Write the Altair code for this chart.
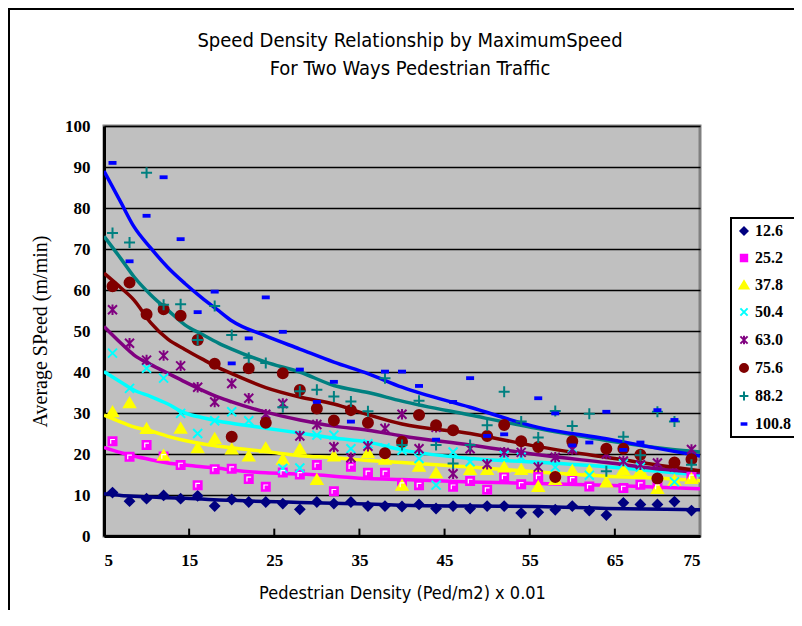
import altair as alt
import pandas as pd

TITLE = ["Speed Density Relationship by MaximumSpeed", "For Two Ways Pedestrian Traffic"]
X_TITLE = "Pedestrian Density (Ped/m2) x 0.01"
Y_TITLE = "Average SPeed (m/min)"
SERIES = ["12.6", "25.2", "37.8", "50.4", "63.0", "75.6", "88.2", "100.8"]

X_PTS = [6, 8, 10, 12, 14, 16, 18, 20, 22, 24, 26, 28, 30, 32, 34, 36, 38, 40,
         42, 44, 46, 48, 50, 52, 54, 56, 58, 60, 62, 64, 66, 68, 70, 72, 74]

P_126 = [10.6, 8.5, 9.1, 9.9, 9.1, 9.8, 7.3, 8.9, 8.3, 8.3, 7.9, 6.5, 8.3, 7.9, 8.3, 7.3, 7.3, 7.2,
         7.7, 6.7, 7.3, 6.7, 7.3, 7.3, 5.6, 5.8, 6.4, 7.3, 6.2, 5.1, 8.1, 7.7, 7.7, 8.4, 6.2]
P_252 = [23.1, 19.3, 22.2, 19.4, 17.3, 12.4, 16.3, 16.4, 13.9, 12.0, 15.5, 15.0, 17.3, 10.9, 16.9, 15.4, 15.4, 12.5,
         12.4, None, 12.0, 13.4, 11.3, 14.4, 12.6, 14.4, None, 13.8, 12.1, None, 11.7, 12.5, 12.0, None, 14.4]
P_378 = [30.3, 32.5, 26.2, 19.7, 26.3, 21.5, 23.8, 21.2, 19.5, 21.5, 18.7, 21.2, 13.8, 19.5, None, 20.3, 18.7, 12.4,
         17.0, 15.4, None, 16.2, 16.2, 16.8, 16.2, 12.1, 13.8, 16.0, 15.9, 13.2, 16.2, 16.0, 11.6, 13.6, 14.0]
P_504 = [44.6, 36.0, 40.9, 38.5, 29.9, 25.0, 28.1, 30.3, 28.1, None, 16.5, 16.6, 24.6, 24.6, 21.3, 22.5, 21.5, 20.9,
         18.9, 12.4, 20.5, 18.1, None, 19.7, 19.2, None, 16.8, 21.4, 14.8, None, 17.6, 16.8, None, 13.2, None]
P_630 = [55.2, 47.0, 42.9, 44.0, 41.5, 36.3, 32.7, 37.2, 33.6, 29.7, 32.3, 24.4, 27.2, 21.7, 19.1, 21.9, 26.2, 29.7,
         21.3, 26.5, 15.2, 21.3, 17.5, 20.4, 20.4, 16.8, 19.2, 21.1, None, 20.0, 18.3, 17.4, 17.8, 16.8, 21.1]
P_756 = [60.9, 61.8, 54.1, 55.3, 53.7, 47.8, 42.0, 24.2, 40.9, 27.6, 39.7, 35.6, 31.1, 28.2, 30.7, 27.6, 20.2, 23.0,
         29.5, 27.0, 25.8, None, 24.4, 27.1, 23.1, 21.7, 14.4, 23.1, None, 21.3, 21.3, 19.8, 14.0, 17.9, 18.7]
P_882 = [73.9, 71.6, 88.6, 56.4, 56.5, 47.8, 56.1, 49.0, 43.5, 42.2, 31.4, 35.3, 35.7, 34.0, 32.8, 30.4, 38.5, 22.2,
         33.0, 22.2, 17.7, 22.2, 27.0, 35.2, 27.9, 24.0, 30.5, 26.8, 29.8, 15.8, 24.2, 19.7, 30.3, 27.9, 17.4]
P_1008 = [91.0, 67.0, 78.1, 87.5, 72.4, 54.6, 59.6, 42.1, 48.2, 58.2, 49.8, 40.6, 32.7, 37.6, 27.9, None, 40.1, 40.1,
          36.6, 23.5, 32.7, 38.5, 24.4, 24.8, None, 33.6, 29.9, 22.1, 22.8, 30.3, 21.0, 22.8, 30.7, 28.3, None]

LINE_X = [5, 7, 8.5, 10.5, 12.5, 14.5, 16.5, 18.5, 20, 24, 28, 32, 36, 40, 48, 56, 64, 71, 75]
L_126 = [10.3, 9.9, 9.7, 9.5, 9.3, 9.2, 9.0, 8.8, 8.7, 8.4, 8.2, 8.0, 7.8, 7.5, 7.3, 7.2, 6.7, 6.5, 6.4]
L_252 = [21.6, 20.3, 19.5, 18.6, 17.8, 17.3, 16.9, 16.5, 16.1, 15.4, 15.1, 14.6, 14.0, 13.8, 13.2, 12.8, 12.4, 11.8, 11.5]
L_378 = [29.5, 27.8, 26.6, 25.6, 24.3, 23.3, 22.5, 21.9, 21.5, 20.6, 19.6, 19.1, 18.4, 17.9, 16.8, 15.6, 14.6, 14.0, 13.5]
L_504 = [40.1, 37.5, 35.6, 34.0, 32.2, 30.0, 28.9, 28.0, 27.5, 26.3, 25.1, 23.9, 22.9, 21.0, 18.9, 18.0, 16.9, 15.6, 14.9]
L_630 = [51.1, 47.0, 44.2, 41.8, 39.7, 37.6, 35.6, 33.8, 32.7, 30.2, 28.3, 26.8, 25.8, 24.4, 22.2, 19.8, 17.9, 16.2, 15.4]
L_756 = [64.1, 60.5, 57.6, 52.0, 48.0, 45.5, 43.2, 41.0, 39.6, 36.2, 33.9, 32.2, 29.6, 27.3, 25.0, 21.8, 19.2, 17.0, 15.9]
L_882 = [73.1, 67.6, 63.3, 58.8, 55.1, 51.5, 49.2, 47.0, 45.6, 42.4, 40.0, 36.7, 35.0, 32.9, 29.5, 26.2, 23.3, 21.3, 20.5]
L_1008 = [89.0, 81.3, 75.5, 70.2, 65.5, 61.6, 58.1, 54.9, 52.5, 48.8, 45.6, 42.4, 39.6, 36.3, 31.4, 26.5, 23.7, 21.0, 19.5]

X_TICKS = [5, 15, 25, 35, 45, 55, 65, 75]
Y_TICKS = [0, 10, 20, 30, 40, 50, 60, 70, 80, 90, 100]
INNER_TICKS = [15, 25, 35, 45, 55, 65]

# styles
COLORS = ["#000080", "#FF00FF", "#FFFF00", "#00FFFF", "#800080", "#800000", "#008080", "#0000FF"]
SHAPES = [
    "M-0.9,0L0,-0.9L0.9,0L0,0.9Z",
    "M-0.8,-0.8L0.8,-0.8L0.8,0.8L-0.8,0.8Z",
    "M0,-0.95L-1.1,0.9L1.1,0.9Z",
    "M-0.9,-0.9L0.9,0.9M-0.9,0.9L0.9,-0.9",
    "M-0.9,-0.9L0.9,0.9M-0.9,0.9L0.9,-0.9M0,-1.05L0,1.05",
    "M-1,0A1,1 0 1,0 1,0A1,1 0 1,0 -1,0Z",
    "M-1.1,0L1.1,0M0,-1.1L0,1.1",
    "M-0.6,-0.18L0.6,-0.18L0.6,0.18L-0.6,0.18Z",
]

pts_y = [P_126, P_252, P_378, P_504, P_630, P_756, P_882, P_1008]
line_y = [L_126, L_252, L_378, L_504, L_630, L_756, L_882, L_1008]

pts_rows = []
for s, ys in zip(SERIES, pts_y):
    for x, y in zip(X_PTS, ys):
        if y is not None:
            pts_rows.append({"series": s, "x": x, "y": y})
pts = pd.DataFrame(pts_rows)

line_rows = []
for s, c, ys in zip(SERIES, COLORS, line_y):
    for x, y in zip(LINE_X, ys):
        line_rows.append({"series": s, "col": c, "x": x, "y": y})
lines = pd.DataFrame(line_rows)

xs = alt.Scale(domain=[5, 75], nice=False, zero=False)
ys_ = alt.Scale(domain=[0, 100], nice=False)

x_axis = alt.Axis(values=X_TICKS, grid=False, title=X_TITLE, labelPadding=16,
                  titleFont="DejaVu Sans Condensed", titleFontSize=18, titleFontWeight="normal",
                  titlePadding=16)
y_axis = alt.Axis(values=Y_TICKS, grid=True, title=Y_TITLE, labelPadding=14,
                  titleFont="Liberation Serif", titleFontSize=20, titleFontWeight="normal",
                  titlePadding=14)

frame = alt.Chart(alt.Data(values=[{"a": 1}])).mark_rect(
    fill="white", fillOpacity=0, stroke="black", strokeWidth=2
).encode(x=alt.value(-95), x2=alt.value(720), y=alt.value(-117), y2=alt.value(620))

line_layer = alt.Chart(lines).mark_line(strokeWidth=3.5, interpolate="monotone", clip=True).encode(
    x=alt.X("x:Q", scale=xs, axis=x_axis),
    y=alt.Y("y:Q", scale=ys_, axis=y_axis),
    detail="series:N",
    color=alt.Color("col:N", scale=None),
    order=alt.Order("x:Q"),
)

leg = alt.Legend(title=None, orient="none", legendX=627, legendY=92)
point_layer = alt.Chart(pts).mark_point(opacity=1, strokeWidth=2, size=100).encode(
    x=alt.X("x:Q", scale=xs),
    y=alt.Y("y:Q", scale=ys_),
    fill=alt.Fill("series:N", scale=alt.Scale(domain=SERIES, range=COLORS), sort=SERIES, legend=leg),
    stroke=alt.Stroke("series:N", scale=alt.Scale(domain=SERIES, range=COLORS), sort=SERIES, legend=leg),
    shape=alt.Shape("series:N", scale=alt.Scale(domain=SERIES, range=SHAPES), sort=SERIES, legend=leg),
)

sq_overlay = alt.Chart(pts[pts["series"] == "25.2"]).mark_point(
    shape="M-0.45,0.6L-0.45,-0.45L0.6,-0.45", stroke="white", strokeWidth=1.2, size=64, opacity=1
).encode(x=alt.X("x:Q", scale=xs), y=alt.Y("y:Q", scale=ys_))

ticks = alt.Chart(pd.DataFrame({"t": INNER_TICKS})).mark_rule(color="black", strokeWidth=2).encode(
    x=alt.X("t:Q", scale=xs), y=alt.datum(0), y2=alt.datum(1.8)
)

chart = alt.layer(frame, line_layer, point_layer, sq_overlay, ticks).properties(
    width=596,
    height=410,
    title=alt.TitleParams(TITLE, anchor="middle", frame="group", dx=8, offset=-71,
                          font="DejaVu Sans Condensed", fontSize=20, fontWeight="normal",
                          lineHeight=28, color="black"),
    padding={"left": 96, "top": 118, "right": 94, "bottom": 74},
    autosize=alt.AutoSizeParams(type="none"),
).configure_view(
    fill="#C0C0C0", stroke="#808080", strokeWidth=3
).configure_axis(
    domainColor="black", domainWidth=3, gridColor="black", gridWidth=1.3, tickSize=0,
    labelFont="Liberation Serif", labelFontWeight="bold", labelFontSize=17, labelColor="black",
    titleColor="black",
).configure_legend(
    strokeColor="black", strokeWidth=2, fillColor="white", padding=5,
    labelFont="Liberation Serif", labelFontWeight="bold", labelFontSize=16, labelColor="black",
    symbolSize=64, symbolStrokeWidth=2, rowPadding=11, labelOffset=3, cornerRadius=0,
)

chart.save("out.html", embed_options={"renderer": "svg", "actions": False})
